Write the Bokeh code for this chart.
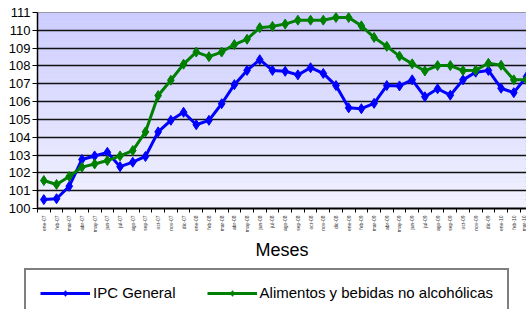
import math
from bokeh.plotting import figure
from bokeh.layouts import column, row
from bokeh.models import FixedTicker, Legend, LegendItem, BoxAnnotation, Range1d
from bokeh.embed import file_html
from bokeh.resources import INLINE

months = ["ene-07", "feb-07", "mar-07", "abr-07", "may-07", "jun-07", "jul-07", "ago-07", "sep-07",
          "oct-07", "nov-07", "dic-07", "ene-08", "feb-08", "mar-08", "abr-08", "may-08", "jun-08",
          "jul-08", "ago-08", "sep-08", "oct-08", "nov-08", "dic-08", "ene-09", "feb-09", "mar-09",
          "abr-09", "may-09", "jun-09", "jul-09", "ago-09", "sep-09", "oct-09", "nov-09", "dic-09",
          "ene-10", "feb-10", "mar-10"]

ipc_general = [100.5, 100.55, 101.25, 102.75, 102.95, 103.15, 102.35, 102.6, 102.92,
               104.3, 104.95, 105.4, 104.7, 104.95, 105.88, 106.95, 107.75, 108.35,
               107.75, 107.7, 107.5, 107.9, 107.58, 106.9, 105.65, 105.6, 105.9,
               106.9, 106.88, 107.22, 106.27, 106.72, 106.36, 107.22, 107.65, 107.75,
               106.75, 106.5, 107.4]

alimentos = [101.57, 101.35, 101.8, 102.32, 102.5, 102.69, 102.95, 103.25, 104.3,
             106.34, 107.2, 108.1, 108.78, 108.52, 108.78, 109.2, 109.5, 110.15,
             110.22, 110.35, 110.57, 110.57, 110.57, 110.72, 110.72, 110.25, 109.6,
             109.1, 108.55, 108.12, 107.72, 108.02, 108.02, 107.74, 107.76, 108.15,
             108.04, 107.22, 107.22]

series_names = ["IPC General", "Alimentos y bebidas no alcohólicas"]
series_colors = ["#0000FF", "#008000"]

y_ticks = list(range(100, 112))

FONT = "Liberation Sans"
xs = list(range(len(months)))

p = figure(width=526, height=266, output_backend="svg", toolbar_location=None,
           x_range=Range1d(-0.5, len(months) - 1), y_range=Range1d(y_ticks[0], y_ticks[-1]),
           min_border_left=37, min_border_right=0, min_border_top=12, min_border_bottom=58)

p.background_fill_color = "#E0E0FF"
p.border_fill_color = "white"
p.outline_line_color = "#888888"

# vertical gradient in plot area
n_bands = 44
y0, y1 = y_ticks[0], y_ticks[-1]
top_c = (204, 204, 255)
bot_c = (242, 242, 255)
for k in range(n_bands):
    b = y0 + (y1 - y0) * k / n_bands
    t = y0 + (y1 - y0) * (k + 1) / n_bands
    f = (k + 0.5) / n_bands
    c = tuple(int(round(bot_c[j] + (top_c[j] - bot_c[j]) * f)) for j in range(3))
    p.add_layout(BoxAnnotation(bottom=b, top=t, fill_color="#%02x%02x%02x" % c, fill_alpha=1.0,
                               line_alpha=0, level="image"))

p.xgrid.visible = False
p.ygrid.ticker = FixedTicker(ticks=y_ticks)
p.ygrid.grid_line_color = "#111111"
p.ygrid.grid_line_width = 1.3

# y axis
p.yaxis.ticker = FixedTicker(ticks=y_ticks)
p.yaxis.major_label_text_font = FONT
p.yaxis.major_label_text_font_size = "13px"
p.yaxis.major_label_text_color = "black"
p.yaxis.major_tick_out = 5
p.yaxis.major_tick_in = 0
p.yaxis.major_tick_line_color = "black"
p.yaxis.minor_tick_line_color = None
p.yaxis.axis_line_color = "black"
p.yaxis.axis_line_width = 1.5
p.yaxis.major_label_standoff = 2

# x axis
p.xaxis.ticker = FixedTicker(ticks=xs, minor_ticks=[i - 0.5 for i in range(len(months) + 1)])
p.xaxis.major_label_overrides = {i: m for i, m in zip(xs, months)}
p.xaxis.major_label_orientation = math.pi / 2
p.xaxis.major_label_text_font = FONT
p.xaxis.major_label_text_font_size = "5px"
p.xaxis.major_label_text_color = "#333333"
p.xaxis.major_label_standoff = 3
p.xaxis.major_tick_out = 0
p.xaxis.major_tick_in = 0
p.xaxis.minor_tick_out = 4
p.xaxis.minor_tick_in = 0
p.xaxis.minor_tick_line_color = "black"
p.xaxis.axis_line_color = "black"
p.xaxis.axis_line_width = 2
p.xaxis.axis_label = "Meses"
p.xaxis.axis_label_text_font = FONT
p.xaxis.axis_label_text_font_size = "18px"
p.xaxis.axis_label_text_font_style = "normal"
p.xaxis.axis_label_text_color = "black"
p.xaxis.axis_label_standoff = 5

series = [ipc_general, alimentos]
for vals, col in zip(series, series_colors):
    p.line(xs, vals, line_color=col, line_width=3)
    p.scatter(xs, vals, marker="diamond", size=10, fill_color=col, line_color=col)

# legend strip below the chart (hidden proxies of the same series supply the legend glyphs)
p2 = figure(width=526, height=43, output_backend="svg", toolbar_location=None,
            x_range=Range1d(0, 1), y_range=Range1d(0, 1), min_border=0,
            x_axis_location=None, y_axis_location=None)
p2.grid.visible = False
p2.outline_line_color = None
p2.background_fill_color = "white"

items = []
for name, vals, col in zip(series_names, series, series_colors):
    lr = p2.line(xs, vals, line_color=col, line_width=3, visible=False)
    sr = p2.scatter(xs, vals, marker="diamond", size=10, fill_color=col, line_color=col, visible=False)
    items.append(LegendItem(label=name, renderers=[lr, sr]))

legend = Legend(items=items, orientation="horizontal", location=(24, -8),
                glyph_width=50, glyph_height=14, label_height=14, label_standoff=3, spacing=31,
                padding=14, margin=0, inactive_fill_alpha=0.0,
                border_line_color="black", border_line_width=2, background_fill_color="white",
                background_fill_alpha=1.0,
                label_text_font=FONT, label_text_font_size="15px", label_text_color="black")
p2.add_layout(legend, "center")

open("out.html", "w").write(file_html(column(p, row(p2, spacing=0), spacing=0), INLINE))
